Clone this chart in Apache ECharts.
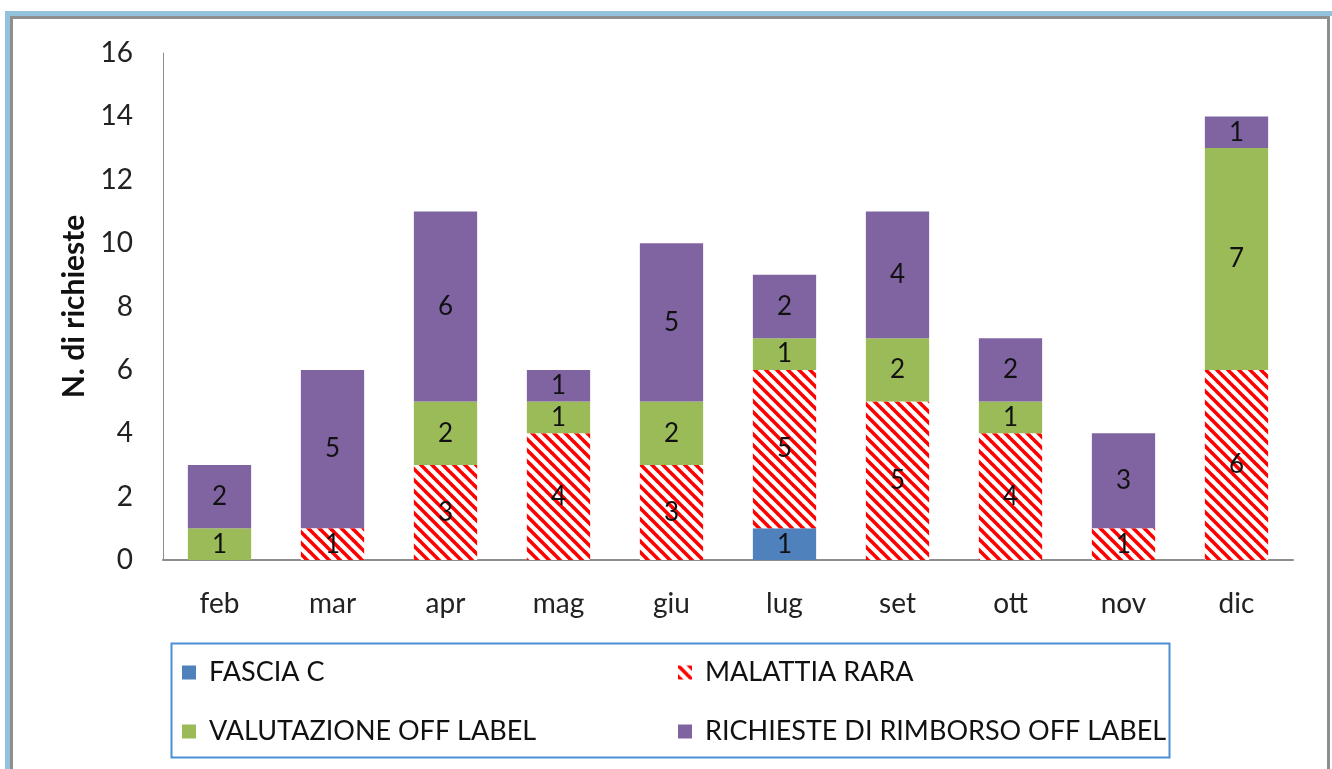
<!DOCTYPE html>
<html>
<head>
<meta charset="utf-8">
<script src="https://cdn.jsdelivr.net/npm/echarts@6/dist/echarts.min.js"></script>
<style>
  html, body { margin: 0; padding: 0; background: #fff; }
  #main { width: 1332px; height: 769px; }
</style>
</head>
<body>
<div id="main"></div>
<script>
var months = ['feb', 'mar', 'apr', 'mag', 'giu', 'lug', 'set', 'ott', 'nov', 'dic'];
var fasciaC = [0, 0, 0, 0, 0, 1, 0, 0, 0, 0];
var malattiaRara = [0, 1, 3, 4, 3, 5, 5, 4, 1, 6];
var valutazione = [1, 0, 2, 1, 2, 1, 2, 1, 0, 7];
var rimborso = [2, 5, 6, 1, 5, 2, 4, 2, 3, 1];
var yTicks = [0, 2, 4, 6, 8, 10, 12, 14, 16];

var FONT = 'Lato, "Open Sans", sans-serif';

// red diagonal hatch like the excel fill
function hatch() {
  var s = 11;
  var c = document.createElement('canvas');
  c.width = s; c.height = s;
  var ctx = c.getContext('2d');
  ctx.fillStyle = '#fff';
  ctx.fillRect(0, 0, s, s);
  ctx.strokeStyle = '#ff0000';
  ctx.lineWidth = 3.6;
  for (var k = -1; k <= 1; k++) {
    ctx.beginPath();
    ctx.moveTo(k * s - 1, -1);
    ctx.lineTo(k * s + s + 1, s + 1);
    ctx.stroke();
  }
  return { image: c, repeat: 'repeat' };
}

function nz(arr) {
  return arr.map(function (v) { return v === 0 ? null : v; });
}

var lbl = {
  show: true,
  position: 'inside',
  color: '#111',
  fontSize: 26,
  fontFamily: FONT
};

var chart = echarts.init(document.getElementById('main'));

function legendAt(name, left, top) {
  return {
    data: [name],
    left: left,
    top: top,
    icon: 'rect',
    itemWidth: 14,
    itemHeight: 14,
    itemGap: 0,
    selectedMode: false,
    textStyle: { fontSize: 27, fontFamily: FONT, color: '#111', padding: [0, 0, 0, 8] }
  };
}

chart.setOption({
  animation: false,
  backgroundColor: '#fff',
  grid: { left: 163, right: 39, top: 53, bottom: 209 },
  graphic: [
    { type: 'rect', shape: { x: 7.5, y: 13.5, width: 1330, height: 770 },
      style: { fill: null, stroke: '#93c3dc', lineWidth: 5 }, silent: true },
    { type: 'rect', shape: { x: 11.5, y: 17.5, width: 1317, height: 770 },
      style: { fill: null, stroke: '#8e8e8e', lineWidth: 3 }, silent: true },
    { type: 'rect', shape: { x: 171.5, y: 643.5, width: 998, height: 114 },
      style: { fill: null, stroke: '#4a8fd6', lineWidth: 2 }, silent: true }
  ],
  legend: [
    legendAt('FASCIA C', 177, 654),
    legendAt('MALATTIA RARA', 673, 654),
    legendAt('VALUTAZIONE OFF LABEL', 177, 713),
    legendAt('RICHIESTE DI RIMBORSO OFF LABEL', 673, 713)
  ],
  xAxis: {
    type: 'category',
    data: months,
    axisLine: { lineStyle: { color: '#8c8c8c', width: 2 } },
    axisTick: { show: false },
    axisLabel: { fontSize: 28, fontFamily: FONT, color: '#222', margin: 30 }
  },
  yAxis: {
    type: 'value',
    min: yTicks[0],
    max: yTicks[yTicks.length - 1],
    interval: 2,
    name: 'N. di richieste',
    nameLocation: 'middle',
    nameGap: 73,
    nameTextStyle: { fontSize: 30, fontWeight: 'bold', fontFamily: FONT, color: '#111' },
    axisLine: { show: true, lineStyle: { color: '#8c8c8c', width: 1 } },
    axisTick: { show: false },
    splitLine: { show: false },
    axisLabel: { fontSize: 28, fontFamily: FONT, color: '#222', margin: 30 }
  },
  series: [
    { name: 'FASCIA C', type: 'bar', stack: 'tot', data: nz(fasciaC), barWidth: '56%',
      itemStyle: { color: '#4f81bd' }, label: lbl },
    { name: 'MALATTIA RARA', type: 'bar', stack: 'tot', data: nz(malattiaRara),
      itemStyle: { color: hatch() }, label: lbl },
    { name: 'VALUTAZIONE OFF LABEL', type: 'bar', stack: 'tot', data: nz(valutazione),
      itemStyle: { color: '#9bbb59' }, label: lbl },
    { name: 'RICHIESTE DI RIMBORSO OFF LABEL', type: 'bar', stack: 'tot', data: nz(rimborso),
      itemStyle: { color: '#8064a2' }, label: lbl }
  ]
});
</script>
</body>
</html>
